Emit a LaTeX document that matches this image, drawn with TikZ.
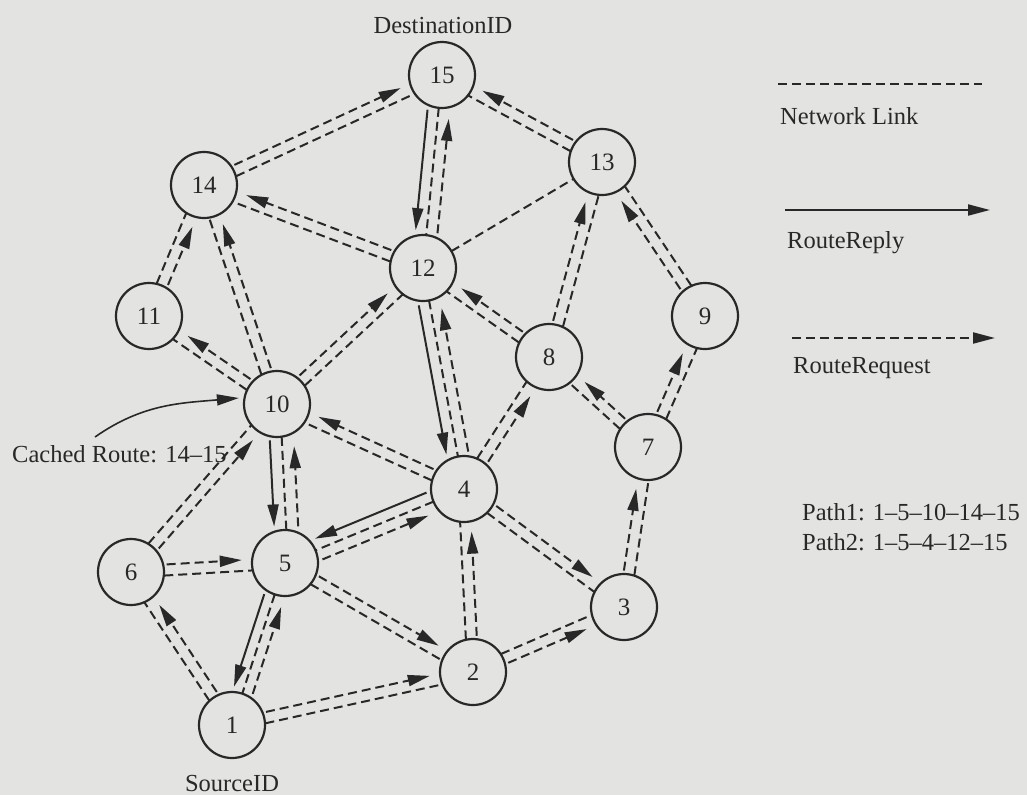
\documentclass[tikz,border=0pt]{standalone}
\usepackage{fontspec}
\setmainfont{Liberation Serif}
\usetikzlibrary{arrows.meta,calc}

\definecolor{paper}{RGB}{227,227,226}
\definecolor{ink}{RGB}{40,40,40}

\tikzset{
  station/.style={circle, draw=ink, line width=2.2pt, minimum size=66pt, inner sep=0pt,
                  text=ink, font=\fontsize{25}{28}\selectfont},
  caption/.style={text=ink, font=\fontsize{24.5}{28}\selectfont, inner sep=0pt},
  pktdash/.style={dash pattern=on 9pt off 5pt},
  tip/.style={-{Triangle[length=22pt,width=11pt]}},
  netlink/.style={draw=ink, line width=2pt, pktdash},
  request/.style={netlink, tip},
  reply/.style={draw=ink, line width=2pt, tip},
}

% #1 style, #2 from, #3 to, #4 sideways offset, #5/#6 distance of the ends from the centres
\newcommand\Conn[6]{\draw[#1] ($(#2)!#5!(#3)!#4!90:(#3)$) -- ($(#3)!#6!(#2)!#4!-90:(#2)$);}
\newcommand\NetLink[3]{\Conn{netlink}{#1}{#2}{#3}{33pt}{33pt}}
\newcommand\RouteReq[3]{\Conn{request}{#1}{#2}{#3}{36pt}{43pt}}
\newcommand\RouteRep[3]{\Conn{reply}{#1}{#2}{#3}{36pt}{37pt}}

\begin{document}
\begin{tikzpicture}[x=1pt,y=-1pt]
\fill[paper] (0,0) rectangle (1027,795);
\useasboundingbox (0,0) rectangle (1027,795);

% stations
\node[station] (n15) at (442,75)  {15};
\node[station] (n14) at (204,185) {14};
\node[station] (n13) at (602,162) {13};
\node[station] (n12) at (423,268) {12};
\node[station] (n11) at (149,316) {11};
\node[station] (n9)  at (705,316) {9};
\node[station] (n8)  at (549,357) {8};
\node[station] (n10) at (277,404) {10};
\node[station] (n7)  at (648,447) {7};
\node[station] (n4)  at (464,489) {4};
\node[station] (n6)  at (131,572) {6};
\node[station] (n5)  at (285,563) {5};
\node[station] (n3)  at (624,607) {3};
\node[station] (n2)  at (473,672) {2};
\node[station] (n1)  at (232,725) {1};

\node[caption] (dst) at (443,26) {DestinationID};
\node[caption] (src) at (232,783) {SourceID};

% links carrying a route request
\RouteReq{n14}{n15}{5.5pt}   \NetLink{n14}{n15}{-5.5pt}
\RouteReq{n13}{n15}{-5.5pt}  \NetLink{n13}{n15}{5.5pt}
\RouteReq{n12}{n14}{-5.5pt}  \NetLink{n12}{n14}{5.5pt}
\RouteReq{n8}{n13}{5.5pt}    \NetLink{n8}{n13}{-5.5pt}
\RouteReq{n9}{n13}{5.5pt}    \NetLink{n9}{n13}{-5.5pt}
\RouteReq{n11}{n14}{-5.5pt}  \NetLink{n11}{n14}{5.5pt}
\RouteReq{n10}{n14}{-5.5pt}  \NetLink{n10}{n14}{5.5pt}
\RouteReq{n10}{n11}{-5.5pt}  \NetLink{n10}{n11}{5.5pt}
\RouteReq{n10}{n12}{5.5pt}   \NetLink{n10}{n12}{-5.5pt}
\RouteReq{n4}{n10}{-5.5pt}   \NetLink{n4}{n10}{5.5pt}
\RouteReq{n6}{n10}{-5.5pt}   \NetLink{n6}{n10}{5.5pt}
\RouteReq{n8}{n12}{-5.5pt}   \NetLink{n8}{n12}{5.5pt}
\RouteReq{n4}{n8}{-5.5pt}    \NetLink{n4}{n8}{5.5pt}
\RouteReq{n7}{n8}{-5.5pt}    \NetLink{n7}{n8}{5.5pt}
\RouteReq{n7}{n9}{5.5pt}     \NetLink{n7}{n9}{-5.5pt}
\RouteReq{n3}{n7}{5.5pt}     \NetLink{n3}{n7}{-5.5pt}
\RouteReq{n4}{n3}{5.5pt}     \NetLink{n4}{n3}{-5.5pt}
\RouteReq{n2}{n4}{-5.5pt}    \NetLink{n2}{n4}{5.5pt}
\RouteReq{n6}{n5}{5.5pt}     \NetLink{n6}{n5}{-5.5pt}
\RouteReq{n1}{n6}{-5.5pt}    \NetLink{n1}{n6}{5.5pt}
\RouteReq{n5}{n2}{5.5pt}     \NetLink{n5}{n2}{-5.5pt}
\RouteReq{n1}{n2}{5.5pt}     \NetLink{n1}{n2}{-5.5pt}
\RouteReq{n2}{n3}{-5.5pt}    \NetLink{n2}{n3}{5.5pt}

% plain link
\NetLink{n12}{n13}{0pt}

% links on the two reply paths
\RouteRep{n15}{n12}{-11pt}  \NetLink{n15}{n12}{0pt}  \RouteReq{n12}{n15}{-11pt}
\RouteRep{n12}{n4}{-11pt}   \NetLink{n12}{n4}{0pt}   \RouteReq{n4}{n12}{-11pt}
\RouteRep{n4}{n5}{-11pt}    \NetLink{n4}{n5}{0pt}    \RouteReq{n5}{n4}{-11pt}
\RouteRep{n10}{n5}{-9pt}    \NetLink{n10}{n5}{3pt}   \RouteReq{n5}{n10}{-15pt}
\RouteRep{n5}{n1}{-10pt}    \NetLink{n5}{n1}{0pt}    \RouteReq{n1}{n5}{-10pt}

% cached route note
\node[caption, anchor=west] (cached) at (12,454) {Cached Route: 14–15};
\coordinate (cachedstart) at (95,437);
\draw[reply, line width=1.6pt] (cachedstart) to[out=35,in=185] ([shift={(-4,-6)}]n10.west);

% legend
\coordinate (nlA) at (778,84);  \coordinate (nlB) at (982,84);
\draw[netlink] (nlA) -- (nlB);
\node[caption, anchor=west] (nltext) at (780,116) {Network Link};
\coordinate (rpA) at (785,210); \coordinate (rpB) at (990,210);
\draw[reply] (rpA) -- (rpB);
\node[caption, anchor=west] (rptext) at (787,243) {RouteReply};
\coordinate (rqA) at (792,338); \coordinate (rqB) at (995,338);
\draw[request] (rqA) -- (rqB);
\node[caption, anchor=west] (rqtext) at (793,368) {RouteRequest};

\node[caption, anchor=west] (path1) at (802,512) {Path1: 1–5–10–14–15};
\node[caption, anchor=west] (path2) at (802,542) {Path2: 1–5–4–12–15};
\end{tikzpicture}
\end{document}
